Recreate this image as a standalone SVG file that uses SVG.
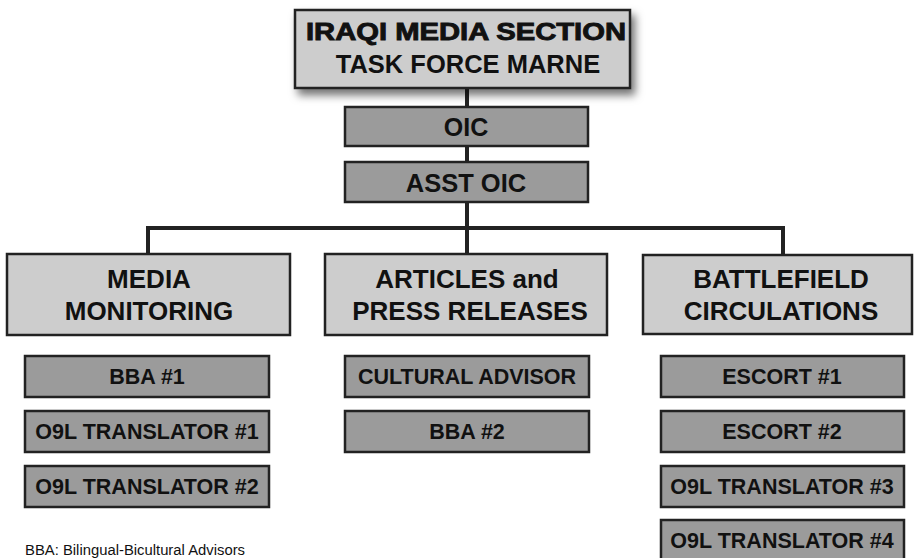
<svg xmlns="http://www.w3.org/2000/svg" width="915" height="558" viewBox="0 0 915 558">
<defs>
<filter id="sh" x="-10%" y="-20%" width="130%" height="160%">
<feDropShadow dx="4" dy="6" stdDeviation="4" flood-color="#000" flood-opacity="0.55"/>
</filter>
</defs>
<style>
.light{fill:#cdcdcd;stroke:#222;stroke-width:2.5}
.dark{fill:#9b9b9b;stroke:#222;stroke-width:2.5}
text{font-family:"Liberation Sans",Arial,sans-serif;font-weight:bold;fill:#111;text-anchor:middle}
.big{font-size:26px}
.sm{font-size:21.5px}
.conn{fill:none;stroke:#222;stroke-width:4}
</style>
<rect width="915" height="558" fill="#fff"/>
<g id="connectors">
<path class="conn" d="M467 88 V228"/>
<path class="conn" d="M148 254 V228 H783 V254"/>
<path class="conn" d="M467 228 V254"/>
</g>
<g id="top">
<rect class="light" x="295" y="10" width="335" height="78" filter="url(#sh)"/>
<text x="466" y="40" style="font-size:24px;stroke:#111;stroke-width:0.9" textLength="320" lengthAdjust="spacingAndGlyphs">IRAQI MEDIA SECTION</text>
<text x="468" y="73" style="font-size:25.5px">TASK FORCE MARNE</text>
</g>
<g id="oic">
<rect class="dark" x="345" y="107" width="243" height="39"/>
<text x="466" y="136" style="font-size:25px">OIC</text>
</g>
<g id="asst-oic">
<rect class="dark" x="345" y="162" width="243" height="40"/>
<text x="466" y="192" style="font-size:25.5px">ASST OIC</text>
</g>
<g id="media-monitoring">
<rect class="light" x="7" y="254" width="283" height="81"/>
<text class="big" x="149" y="288">MEDIA</text>
<text class="big" x="149" y="320">MONITORING</text>
</g>
<g id="articles">
<rect class="light" x="325" y="254" width="282" height="81"/>
<text class="big" x="467" y="288">ARTICLES and</text>
<text class="big" x="470" y="320">PRESS RELEASES</text>
</g>
<g id="battlefield">
<rect class="light" x="643" y="255" width="269" height="79"/>
<text class="big" x="781" y="288">BATTLEFIELD</text>
<text class="big" x="781" y="320">CIRCULATIONS</text>
</g>
<g id="bba1"><rect class="dark" x="25" y="356" width="244" height="41"/><text class="sm" x="147" y="384">BBA #1</text></g>
<g id="o9l1"><rect class="dark" x="25" y="411" width="244" height="41"/><text class="sm" x="147" y="439">O9L TRANSLATOR #1</text></g>
<g id="o9l2"><rect class="dark" x="25" y="466" width="244" height="41"/><text class="sm" x="147" y="494">O9L TRANSLATOR #2</text></g>
<g id="cultural"><rect class="dark" x="345" y="356" width="244" height="41"/><text class="sm" x="467" y="384">CULTURAL ADVISOR</text></g>
<g id="bba2"><rect class="dark" x="345" y="411" width="244" height="41"/><text class="sm" x="467" y="439">BBA #2</text></g>
<g id="escort1"><rect class="dark" x="661" y="356" width="243" height="41"/><text class="sm" x="782" y="384">ESCORT #1</text></g>
<g id="escort2"><rect class="dark" x="661" y="411" width="243" height="41"/><text class="sm" x="782" y="439">ESCORT #2</text></g>
<g id="o9l3"><rect class="dark" x="661" y="466" width="243" height="41"/><text class="sm" x="782" y="494">O9L TRANSLATOR #3</text></g>
<g id="o9l4"><rect class="dark" x="661" y="520" width="243" height="41"/><text class="sm" x="782" y="548">O9L TRANSLATOR #4</text></g>
<text x="25" y="555" style="font-size:14px;font-weight:normal;text-anchor:start" textLength="220" lengthAdjust="spacingAndGlyphs">BBA: Bilingual-Bicultural Advisors</text>
</svg>
